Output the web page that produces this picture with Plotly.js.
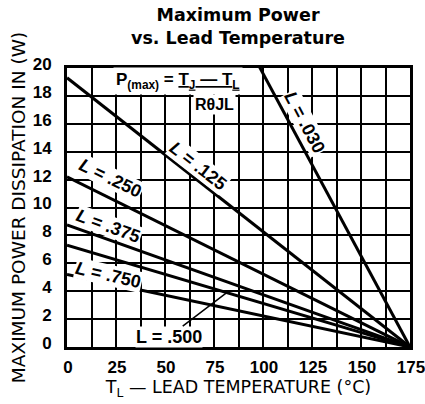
<!DOCTYPE html>
<html><head><meta charset="utf-8">
<script src="https://cdn.plot.ly/plotly-3.0.1.min.js"></script>
<style>html,body{margin:0;padding:0;background:#fff}#chart{width:425px;height:404px}</style>
</head><body><div id="chart"></div>
<script>
// Lead lengths (inches) for each curve
const lineLabels = ['.030', '.125', '.250', '.375', '.500', '.750'];
// Power dissipation (W) read at T_L = 0 °C for each curve
const powerAtZero = [45.75, 19.3, 12.2, 8.75, 7.3, 5.2];
// Lead temperature end points (°C); every curve reaches 0 W at 175 °C
const tempEnds = [0, 175];
const xTickVals = [0, 25, 50, 75, 100, 125, 150, 175];
const yTickVals = [0, 2, 4, 6, 8, 10, 12, 14, 16, 18, 20];

const F = '"Liberation Sans", Arial, sans-serif';
const FW = '"DejaVu Sans", sans-serif';
const powerAt = (i, t) => powerAtZero[i] * (tempEnds[1] - t) / (tempEnds[1] - tempEnds[0]);

const traces = lineLabels.map((lab, i) => ({
  x: tempEnds,
  y: [powerAtZero[i], 0],
  mode: 'lines',
  line: {color: '#000', width: 3},
  name: 'L = ' + lab,
  hoverinfo: 'skip'
}));

const labelFont = {family: F, size: 18, color: '#000', weight: 'bold'};
function lineLabel(idx, x, y, angle) {
  return {x: x, y: y, xref: 'x', yref: 'y', text: '<i>L</i> = ' + lineLabels[idx],
    showarrow: false, textangle: angle, font: labelFont, bgcolor: '#fff', borderpad: 0};
}

const annotations = [
  lineLabel(0, 121, 16.1, 62),
  lineLabel(1, 67, 13.0, 38),
  lineLabel(2, 22, 12.1, 26),
  lineLabel(3, 21, 8.67, 20),
  lineLabel(5, 21, 5.16, 13),
  {x: 81.5, y: powerAt(4, 81.5), xref: 'x', yref: 'y', ax: 52, ay: 0.75, axref: 'x', ayref: 'y',
   text: 'L = ' + lineLabels[4], showarrow: true, arrowhead: 0, arrowwidth: 1.5, arrowcolor: '#000',
   font: {family: F, size: 18, color: '#000', weight: 'bold'}, bgcolor: '#fff', borderpad: 0},
  {x: 56.6, y: 19.1, xref: 'x', yref: 'y', showarrow: false, bgcolor: '#fff', borderpad: 2,
   text: 'P<sub>(max)</sub> = <u>T<sub>J</sub> — T<sub>L</sub></u>',
   font: {family: F, size: 17, color: '#000', weight: 'bold'}},
  {x: 75.5, y: 17.4, xref: 'x', yref: 'y', showarrow: false, bgcolor: '#fff', borderpad: 1,
   text: 'RθJL', font: {family: F, size: 16, color: '#000', weight: 'bold'}}
];

const layout = {
  width: 425, height: 404,
  margin: {l: 67, r: 15, t: 68, b: 57},
  paper_bgcolor: '#fff', plot_bgcolor: '#fff',
  showlegend: false,
  title: {text: '<b>Maximum Power<br>vs. Lead Temperature</b>',
    font: {family: FW, size: 17.5, color: '#000'},
    x: 0.56, xanchor: 'center', y: 0.948, yanchor: 'middle'},
  xaxis: {
    range: [0, 175], tickmode: 'array', tickvals: xTickVals,
    showgrid: true, gridcolor: '#000', gridwidth: 2,
    minor: {tick0: 0, dtick: 12.5, showgrid: true, gridcolor: '#000', gridwidth: 2},
    showline: true, mirror: true, linecolor: '#000', linewidth: 3, zeroline: false,
    ticks: '', ticklabelstandoff: 3, ticklabelshift: 1, ticklabeloverflow: 'allow',
    tickfont: {family: F, size: 17, color: '#000', weight: 'bold'},
    title: {text: 'T<sub>L</sub> — LEAD TEMPERATURE (°C)', font: {family: FW, size: 17.5, color: '#000'}, standoff: 1},
    fixedrange: true
  },
  yaxis: {
    range: [0, 20], tickmode: 'array', tickvals: yTickVals,
    showgrid: true, gridcolor: '#000', gridwidth: 2,
    showline: true, mirror: true, linecolor: '#000', linewidth: 3, zeroline: false,
    ticks: '', ticklabelstandoff: 9, ticklabelshift: -4,
    tickfont: {family: F, size: 17, color: '#000', weight: 'bold'},
    title: {text: 'MAXIMUM POWER DISSIPATION IN (W)', font: {family: FW, size: 18.5, color: '#000'}, standoff: 3},
    fixedrange: true
  },
  annotations: annotations
};

Plotly.newPlot('chart', traces, layout, {staticPlot: true, displayModeBar: false});
</script></body></html>
